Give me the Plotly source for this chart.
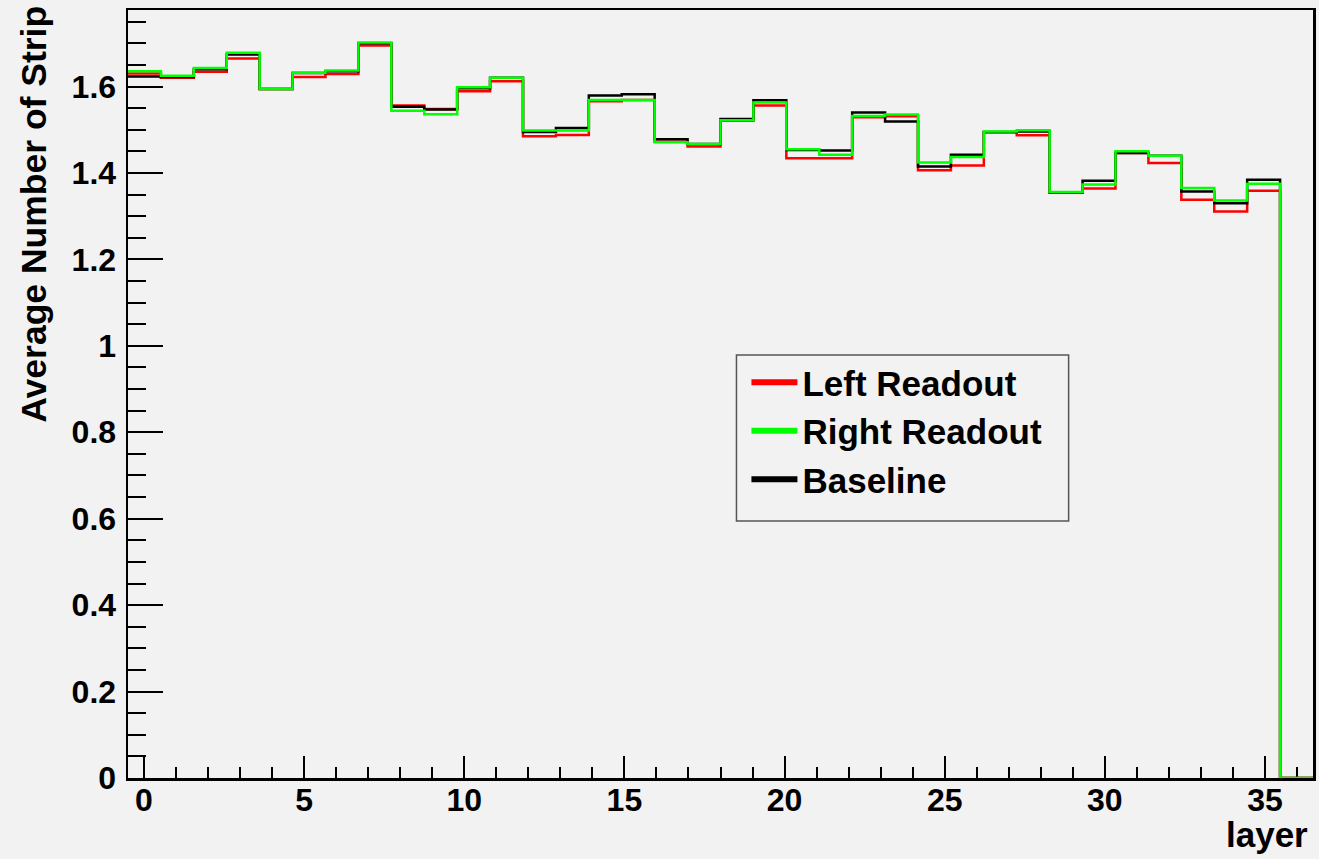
import numpy as np
import plotly.graph_objects as go

# ---- data -------------------------------------------------------------
n_bins = 36
x_low, x_high = -0.5, 36.5

left_readout = [1.630, 1.620, 1.634, 1.665, 1.594, 1.622, 1.629, 1.695, 1.556, 1.548,
                1.589, 1.612, 1.485, 1.488, 1.566, 1.569, 1.472, 1.461, 1.521, 1.556,
                1.434, 1.434, 1.529, 1.531, 1.406, 1.417, 1.494, 1.487, 1.355, 1.364,
                1.446, 1.423, 1.338, 1.311, 1.359, 0.0]
right_readout = [1.635, 1.625, 1.643, 1.678, 1.594, 1.632, 1.637, 1.702, 1.544, 1.536,
                 1.598, 1.620, 1.498, 1.498, 1.569, 1.569, 1.471, 1.467, 1.522, 1.563,
                 1.455, 1.442, 1.532, 1.535, 1.424, 1.437, 1.496, 1.499, 1.356, 1.373,
                 1.450, 1.440, 1.365, 1.336, 1.375, 0.0]
baseline = [1.623, 1.622, 1.640, 1.674, 1.594, 1.631, 1.635, 1.700, 1.553, 1.547,
            1.596, 1.620, 1.495, 1.504, 1.579, 1.582, 1.478, 1.467, 1.525, 1.568,
            1.453, 1.452, 1.540, 1.519, 1.415, 1.442, 1.495, 1.496, 1.355, 1.382,
            1.446, 1.440, 1.357, 1.330, 1.384, 0.0]

series_names = ["Left Readout", "Right Readout", "Baseline"]
x_ticks = [0, 5, 10, 15, 20, 25, 30, 35]
y_ticks = [0, 0.2, 0.4, 0.6, 0.8, 1.0, 1.2, 1.4, 1.6]
y_tick_text = ["0", "0.2", "0.4", "0.6", "0.8", "1", "1.2", "1.4", "1.6"]
x_title = "layer"
y_title = "Average Number of Strip"

# ---- figure -----------------------------------------------------------
edges = np.linspace(x_low, x_high, n_bins + 1)
FONT = "Liberation Sans, Arial, Helvetica, sans-serif"
BG = "#f2f2f2"

def step_y(vals):
    return list(vals) + [vals[-1]]

colors = {"Left Readout": "#ff0000", "Right Readout": "#00ff00", "Baseline": "#000000"}
data_map = {"Left Readout": left_readout, "Right Readout": right_readout, "Baseline": baseline}

fig = go.Figure()
# draw order: red, black, green (green on top)
for name in ["Left Readout", "Baseline", "Right Readout"]:
    fig.add_trace(go.Scatter(
        x=edges, y=step_y(data_map[name]), mode="lines",
        line=dict(shape="hv", color=colors[name], width=2.5),
        showlegend=False, hoverinfo="skip"))

# legend entries
for i, name in enumerate(series_names):
    fig.add_trace(go.Scatter(
        x=[None], y=[None], mode="lines", name=name,
        line=dict(color=colors[name], width=6),
        legendrank=i + 1))

W, H = 1319, 859
ml, mr, mt, mb = 128, 3, 10, 81
pw, ph = W - ml - mr, H - mt - mb

def px_x(p):
    return (p - ml) / pw

def px_y(p):
    return (H - mb - p) / ph

axis_common = dict(
    showline=True, linewidth=2.5, linecolor="black", mirror=True,
    ticks="inside", tickcolor="black", tickwidth=2,
    showgrid=False, zeroline=False, layer="below traces",
    tickfont=dict(family=FONT, size=32, color="black", weight="bold"),
)

fig.update_layout(
    width=W, height=H, autosize=False,
    margin=dict(l=ml, r=mr, t=mt, b=mb),
    paper_bgcolor=BG, plot_bgcolor=BG,
    font=dict(family=FONT, color="black"),
    showlegend=True,
    legend=dict(
        x=px_x(748), y=px_y(353), xanchor="left", yanchor="top",
        bgcolor="rgba(0,0,0,0)", borderwidth=0,
        font=dict(family=FONT, size=35, color="black", weight="bold"),
        itemwidth=46, traceorder="normal",
    ),
    xaxis=dict(
        range=[x_low, x_high], tickvals=x_ticks, ticklen=22, ticklabelstandoff=-8,
        minor=dict(dtick=1, ticks="inside", ticklen=11, tickcolor="black", tickwidth=2, showgrid=False),
        **axis_common),
    yaxis=dict(
        range=[0, 1.777], tickvals=y_ticks, ticktext=y_tick_text, ticklen=35, ticklabelstandoff=3,
        minor=dict(dtick=0.05, ticks="inside", ticklen=18, tickcolor="black", tickwidth=2, showgrid=False),
        **axis_common),
    shapes=[dict(
        type="rect", xref="paper", yref="paper",
        x0=px_x(738), x1=px_x(1071), y0=px_y(521), y1=px_y(355),
        line=dict(color="#555555", width=1.5), fillcolor="rgba(0,0,0,0)", layer="above")],
    annotations=[
        dict(text=y_title, xref="paper", yref="paper", x=px_x(33), y=px_y(4),
             xanchor="center", yanchor="top", textangle=-90, showarrow=False,
             font=dict(family=FONT, size=35.5, color="black", weight="bold")),
        dict(text=x_title, xref="paper", yref="paper", x=px_x(1313), y=px_y(834),
             xanchor="right", yanchor="middle", showarrow=False,
             font=dict(family=FONT, size=35, color="black", weight="bold")),
    ],
)

fig.write_html(
    "out.html",
    config={"displayModeBar": False, "staticPlot": True},
    post_script="document.body.style.margin='0';document.body.style.padding='0';"
                "document.body.style.overflow='hidden';",
)
